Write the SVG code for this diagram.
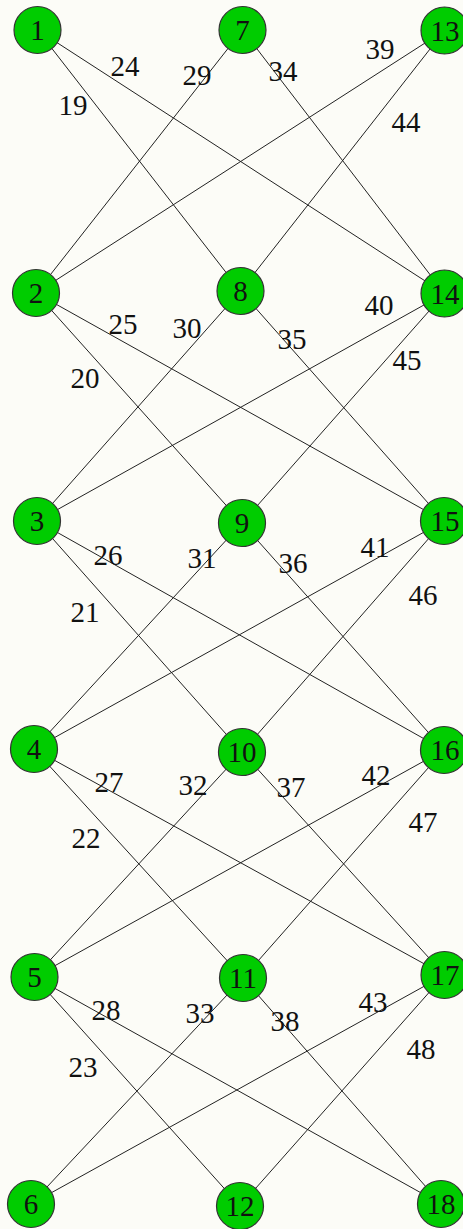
<svg xmlns="http://www.w3.org/2000/svg" width="463" height="1229" viewBox="0 0 463 1229">
<style>
.n circle{fill:#00cc00;stroke:#333;stroke-width:1.2}
text{font-family:"Liberation Serif","DejaVu Serif",serif;font-size:29px;fill:#111;text-anchor:middle}
#edges line{stroke:#222;stroke-width:1}
</style>
<rect width="463" height="1229" fill="#fcfcf7"/>
<g id="edges">
<line x1="37.5" y1="30" x2="240.5" y2="291"/>
<line x1="37.5" y1="30" x2="444.5" y2="293.5"/>
<line x1="242.5" y1="30" x2="36" y2="293"/>
<line x1="242.5" y1="30" x2="444.5" y2="293.5"/>
<line x1="444.5" y1="30.5" x2="36" y2="293"/>
<line x1="444.5" y1="30.5" x2="240.5" y2="291"/>
<line x1="36" y1="293" x2="242" y2="523"/>
<line x1="36" y1="293" x2="444" y2="521"/>
<line x1="240.5" y1="291" x2="37" y2="521"/>
<line x1="240.5" y1="291" x2="444" y2="521"/>
<line x1="444.5" y1="293.5" x2="37" y2="521"/>
<line x1="444.5" y1="293.5" x2="242" y2="523"/>
<line x1="37" y1="521" x2="242" y2="752"/>
<line x1="37" y1="521" x2="444" y2="750"/>
<line x1="242" y1="523" x2="34" y2="749"/>
<line x1="242" y1="523" x2="444" y2="750"/>
<line x1="444" y1="521" x2="34" y2="749"/>
<line x1="444" y1="521" x2="242" y2="752"/>
<line x1="34" y1="749" x2="243" y2="978"/>
<line x1="34" y1="749" x2="444.5" y2="975"/>
<line x1="242" y1="752" x2="34.5" y2="977"/>
<line x1="242" y1="752" x2="444.5" y2="975"/>
<line x1="444" y1="750" x2="34.5" y2="977"/>
<line x1="444" y1="750" x2="243" y2="978"/>
<line x1="34.5" y1="977" x2="240" y2="1206"/>
<line x1="34.5" y1="977" x2="441" y2="1204"/>
<line x1="243" y1="978" x2="31" y2="1204"/>
<line x1="243" y1="978" x2="441" y2="1204"/>
<line x1="444.5" y1="975" x2="31" y2="1204"/>
<line x1="444.5" y1="975" x2="240" y2="1206"/>
</g>
<g id="edge-labels">
<text x="125" y="76">24</text>
<text x="73" y="115">19</text>
<text x="197" y="85">29</text>
<text x="283" y="81">34</text>
<text x="380" y="59">39</text>
<text x="406" y="132">44</text>
<text x="123" y="334">25</text>
<text x="187" y="338">30</text>
<text x="292" y="349">35</text>
<text x="379" y="315">40</text>
<text x="407" y="370">45</text>
<text x="85" y="388">20</text>
<text x="108" y="565">26</text>
<text x="202" y="568">31</text>
<text x="293" y="573">36</text>
<text x="375" y="557">41</text>
<text x="423" y="605">46</text>
<text x="85" y="622">21</text>
<text x="109" y="792">27</text>
<text x="193" y="795">32</text>
<text x="291" y="797">37</text>
<text x="376" y="785">42</text>
<text x="423" y="832">47</text>
<text x="86" y="848">22</text>
<text x="106" y="1020">28</text>
<text x="200" y="1023">33</text>
<text x="285" y="1031">38</text>
<text x="373" y="1012">43</text>
<text x="421" y="1059">48</text>
<text x="83" y="1077">23</text>
</g>
<g id="n1" class="n"><circle cx="37.5" cy="30" r="23.5"/><text x="37.5" y="40">1</text></g>
<g id="n7" class="n"><circle cx="242.5" cy="30" r="23.5"/><text x="242.5" y="40">7</text></g>
<g id="n13" class="n"><circle cx="444.5" cy="30.5" r="23.5"/><text x="445" y="40.5">13</text></g>
<g id="n2" class="n"><circle cx="36" cy="293" r="23.5"/><text x="36" y="303">2</text></g>
<g id="n8" class="n"><circle cx="240.5" cy="291" r="23.5"/><text x="240.5" y="301">8</text></g>
<g id="n14" class="n"><circle cx="444.5" cy="293.5" r="23.5"/><text x="445" y="303.5">14</text></g>
<g id="n3" class="n"><circle cx="37" cy="521" r="23.5"/><text x="37" y="531">3</text></g>
<g id="n9" class="n"><circle cx="242" cy="523" r="23.5"/><text x="242" y="533">9</text></g>
<g id="n15" class="n"><circle cx="444" cy="521" r="23.5"/><text x="445" y="531">15</text></g>
<g id="n4" class="n"><circle cx="34" cy="749" r="23.5"/><text x="34" y="759">4</text></g>
<g id="n10" class="n"><circle cx="242" cy="752" r="23.5"/><text x="242" y="762">10</text></g>
<g id="n16" class="n"><circle cx="444" cy="750" r="23.5"/><text x="445" y="760">16</text></g>
<g id="n5" class="n"><circle cx="34.5" cy="977" r="23.5"/><text x="34.5" y="987">5</text></g>
<g id="n11" class="n"><circle cx="243" cy="978" r="23.5"/><text x="243" y="988">11</text></g>
<g id="n17" class="n"><circle cx="444.5" cy="975" r="23.5"/><text x="445" y="985">17</text></g>
<g id="n6" class="n"><circle cx="31" cy="1204" r="23.5"/><text x="31" y="1214">6</text></g>
<g id="n12" class="n"><circle cx="240" cy="1206" r="23.5"/><text x="240" y="1216">12</text></g>
<g id="n18" class="n"><circle cx="441" cy="1204" r="23.5"/><text x="441" y="1214">18</text></g>
</svg>
